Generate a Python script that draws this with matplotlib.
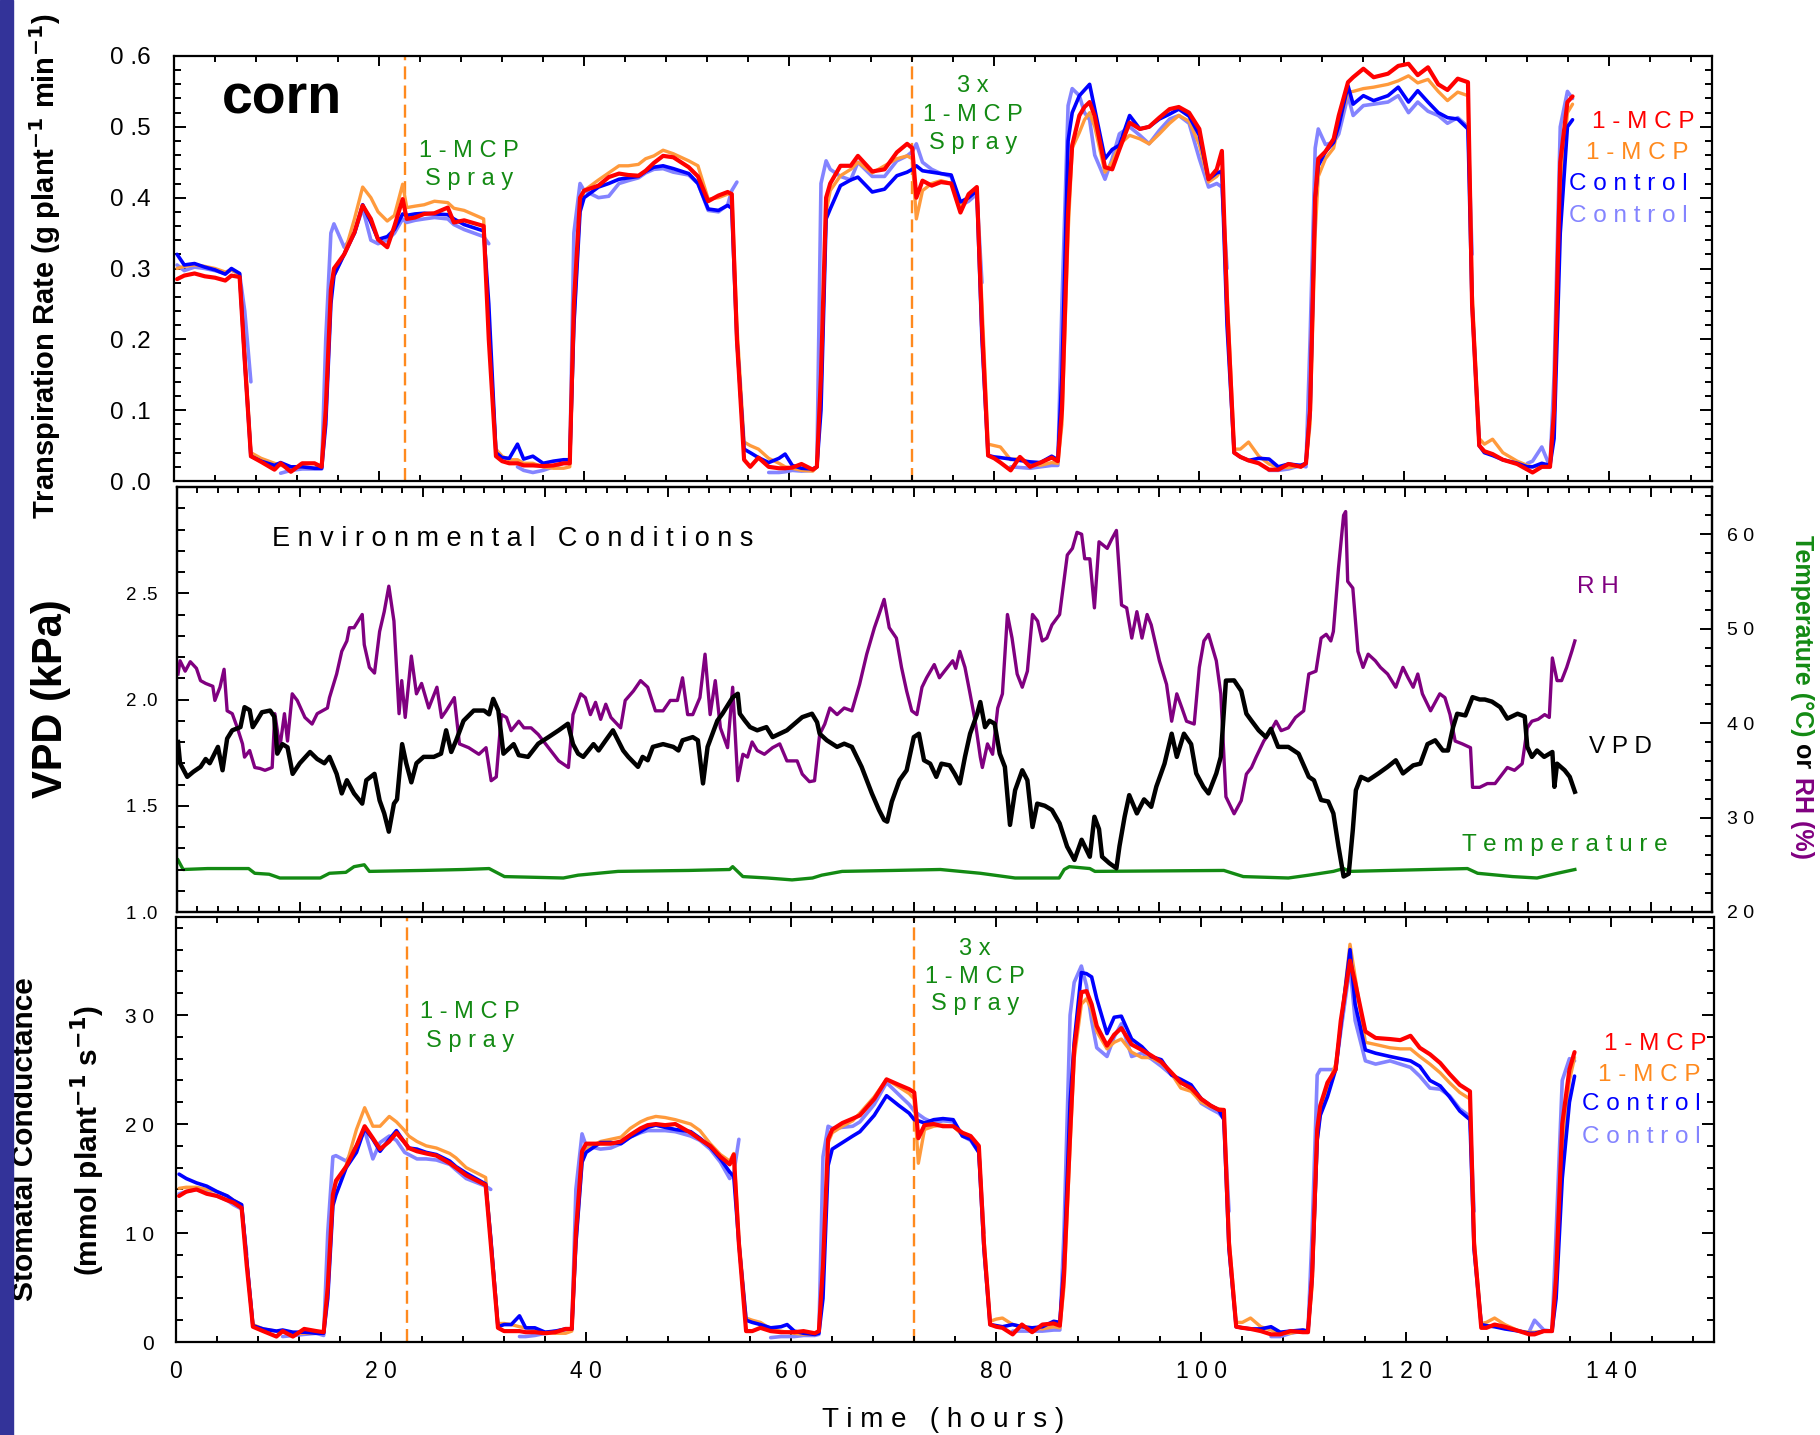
import numpy as np
import matplotlib
matplotlib.use("Agg")
import matplotlib.pyplot as plt
from matplotlib.ticker import MultipleLocator
from matplotlib.patches import Rectangle

plt.rcParams['font.family'] = ['Liberation Sans', 'DejaVu Sans']
nan = np.nan

# ---------------- shared time base for the plant measurements (hours) ----------------
hours = [
    0.3, 1.0, 2.0, 3.0, 4.0, 5.0, 5.6, 6.4,
    6.9, 7.5, 8.5, 9.8, 10.4, 11.4, 12.5, 13.7,
    14.4, 14.8, 15.3, 15.6, 16.6, 17.6, 18.4, 19.2, 19.9, 20.8, 21.5, 22.3, 22.7, 23.5, 24.4, 25.4, 26.7, 27.3, 28.3, 30.2,
    30.7, 31.4, 32.0, 32.7, 33.5, 34.1, 35.0, 36.0, 37.0, 38.0,
    38.6, 39.0, 39.6, 40.0, 41.4, 42.4, 43.4, 44.3, 45.3, 46.0, 46.8, 47.7, 48.7, 50.2, 51.1, 52.1, 53.1, 54.0, 54.4,
    54.9, 55.6, 56.2, 57.0, 58.0, 59.0, 59.6, 60.3, 61.2, 62.3,
    62.7, 63.1, 63.6, 64.0, 65.0, 66.0, 66.7, 68.1, 69.3, 70.5, 71.5, 72.0, 72.4, 73.0, 73.9, 74.8, 75.8, 76.7, 77.5, 78.3,
    78.8, 79.4, 80.0, 80.6, 81.6, 82.5, 83.5, 84.5, 85.6,
    86.2, 86.6, 87.2, 87.6, 88.3, 88.8, 89.3, 89.8, 90.8, 91.5, 92.2, 93.2, 94.2, 95.1, 96.1, 97.1, 98.0, 99.0, 100.0, 100.9, 101.7, 102.2,
    102.7, 103.4, 104.0, 104.8, 105.8, 106.8, 107.7, 108.7, 109.9,
    110.4, 110.8, 111.3, 111.6, 112.3, 113.1, 113.6, 114.5, 115.0, 116.0, 117.0, 118.4, 119.4, 120.4, 121.3, 122.3, 123.3, 124.2, 125.2, 126.2,
    126.6, 127.3, 127.8, 128.6, 129.6, 131.0, 132.0, 132.5, 133.4, 134.2, 134.6, 135.2,
    135.9, 136.4,
]

# ---------------- transpiration rate (g plant-1 min-1) ----------------
tr_mcp_a = [  # 1-MCP (red)
    0.285, 0.290, 0.293, 0.289, 0.287, 0.283, 0.290, 0.288,
    0.170, 0.035, 0.027, 0.016, 0.025, 0.013, 0.025, 0.025,
    0.020, 0.100, 0.270, 0.300, 0.320, 0.351, 0.389, 0.370, 0.341, 0.330, 0.360, 0.398, 0.370, 0.372, 0.377, 0.378, 0.386, 0.365, 0.368, 0.360,
    0.200, 0.035, 0.028, 0.025, 0.025, 0.022, 0.022, 0.021, 0.022, 0.025,
    0.025, 0.250, 0.400, 0.410, 0.417, 0.429, 0.434, 0.432, 0.431, 0.438, 0.449, 0.459, 0.457, 0.443, 0.430, 0.395, 0.403, 0.408, 0.405,
    0.200, 0.030, 0.020, 0.033, 0.020, 0.018, 0.018, 0.019, 0.024, 0.016,
    0.020, 0.150, 0.400, 0.420, 0.445, 0.445, 0.459, 0.437, 0.440, 0.464, 0.476, 0.470, 0.400, 0.424, 0.417, 0.422, 0.420, 0.379, 0.405, 0.415,
    0.220, 0.036, 0.032, 0.026, 0.015, 0.034, 0.020, 0.026, 0.033,
    0.028, 0.100, 0.380, 0.474, 0.516, 0.528, 0.535, 0.515, 0.443, 0.440, 0.468, 0.506, 0.497, 0.500, 0.513, 0.525, 0.528, 0.520, 0.497, 0.426, 0.440, 0.466,
    0.250, 0.040, 0.034, 0.029, 0.025, 0.016, 0.016, 0.024, 0.020,
    0.025, 0.100, 0.400, 0.455, 0.465, 0.483, 0.516, 0.563, 0.570, 0.582, 0.570, 0.575, 0.586, 0.589, 0.573, 0.584, 0.560, 0.552, 0.568, 0.563,
    0.250, 0.050, 0.042, 0.038, 0.030, 0.024, 0.016, 0.012, 0.020, 0.020, 0.100, 0.450,
    0.535, 0.543,
]
tr_mcp_b = [  # 1-MCP (orange)
    0.300, 0.303, 0.305, 0.303, 0.300, 0.295, 0.298, 0.292,
    0.180, 0.040, 0.032, 0.025, 0.022, 0.020, 0.020, 0.018,
    0.020, 0.100, 0.270, 0.290, 0.320, 0.370, 0.415, 0.400, 0.380, 0.367, 0.375, 0.419, 0.386, 0.388, 0.390, 0.395, 0.393, 0.385, 0.382, 0.370,
    0.220, 0.045, 0.035, 0.030, 0.030, 0.025, 0.025, 0.020, 0.018, 0.018,
    0.020, 0.220, 0.390, 0.410, 0.425, 0.435, 0.445, 0.445, 0.447, 0.455, 0.459, 0.467, 0.462, 0.452, 0.445, 0.398, 0.400, 0.405, 0.405,
    0.220, 0.055, 0.050, 0.045, 0.032, 0.025, 0.020, 0.018, 0.015, 0.014,
    0.020, 0.120, 0.380, 0.410, 0.431, 0.440, 0.450, 0.435, 0.445, 0.455, 0.459, 0.455, 0.370, 0.410, 0.420, 0.424, 0.420, 0.388, 0.400, 0.412,
    0.250, 0.052, 0.050, 0.048, 0.030, 0.032, 0.025, 0.022, 0.026,
    0.025, 0.080, 0.350, 0.470, 0.492, 0.510, 0.520, 0.500, 0.436, 0.450, 0.475, 0.488, 0.483, 0.476, 0.490, 0.505, 0.516, 0.508, 0.475, 0.422, 0.430, 0.440,
    0.270, 0.045, 0.045, 0.055, 0.035, 0.024, 0.019, 0.019, 0.022,
    0.025, 0.080, 0.350, 0.430, 0.455, 0.470, 0.505, 0.549, 0.550, 0.554, 0.556, 0.560, 0.565, 0.572, 0.562, 0.567, 0.550, 0.537, 0.549, 0.544,
    0.270, 0.060, 0.052, 0.059, 0.040, 0.028, 0.022, 0.020, 0.022, 0.022, 0.080, 0.400,
    0.520, 0.532,
]
tr_ctrl_a = [  # Control (blue)
    0.320, 0.305, 0.307, 0.302, 0.298, 0.292, 0.300, 0.293,
    0.170, 0.035, 0.028, 0.022, 0.026, 0.020, 0.020, 0.018,
    0.018, 0.080, 0.250, 0.290, 0.320, 0.350, 0.390, 0.365, 0.341, 0.345, 0.355, 0.377, 0.375, 0.377, 0.378, 0.377, 0.376, 0.370, 0.362, 0.353,
    0.250, 0.040, 0.033, 0.032, 0.052, 0.031, 0.035, 0.025, 0.028, 0.030,
    0.030, 0.220, 0.380, 0.400, 0.415, 0.420, 0.426, 0.428, 0.430, 0.437, 0.443, 0.445, 0.441, 0.434, 0.420, 0.384, 0.382, 0.389, 0.385,
    0.200, 0.045, 0.040, 0.033, 0.026, 0.032, 0.038, 0.022, 0.018, 0.017,
    0.020, 0.100, 0.370, 0.384, 0.417, 0.425, 0.429, 0.408, 0.412, 0.431, 0.436, 0.440, 0.445, 0.438, 0.436, 0.434, 0.432, 0.394, 0.400, 0.410,
    0.200, 0.036, 0.034, 0.033, 0.031, 0.029, 0.027, 0.026, 0.035,
    0.030, 0.150, 0.480, 0.520, 0.544, 0.552, 0.560, 0.525, 0.455, 0.468, 0.474, 0.516, 0.497, 0.500, 0.511, 0.518, 0.525, 0.515, 0.488, 0.426, 0.435, 0.437,
    0.220, 0.040, 0.034, 0.029, 0.032, 0.031, 0.020, 0.024, 0.022,
    0.025, 0.100, 0.400, 0.445, 0.465, 0.478, 0.502, 0.558, 0.532, 0.544, 0.537, 0.544, 0.556, 0.535, 0.551, 0.535, 0.520, 0.513, 0.511, 0.497,
    0.250, 0.050, 0.040, 0.036, 0.030, 0.025, 0.020, 0.020, 0.025, 0.022, 0.060, 0.350,
    0.500, 0.510,
]
tr_ctrl_b = [  # Control (light blue); gaps where the record is missing
    0.305, 0.297, 0.302, 0.300, 0.297, 0.293, 0.298, 0.292,
    0.240, 0.140, nan, nan, 0.011, 0.015, 0.017, 0.017,
    0.017, 0.200, 0.350, 0.363, 0.330, 0.350, 0.385, 0.340, 0.335, 0.340, 0.350, 0.370, 0.365, 0.368, 0.370, 0.372, 0.370, 0.362, 0.355, 0.345,
    0.335, nan, nan, nan, 0.020, 0.015, 0.012, 0.015, 0.020, 0.025,
    0.025, 0.350, 0.420, 0.410, 0.400, 0.402, 0.420, 0.424, 0.428, 0.435, 0.440, 0.441, 0.436, 0.432, 0.420, 0.382, 0.380, 0.390, 0.410,
    0.422, nan, nan, nan, 0.012, 0.012, 0.013, 0.015, 0.014, 0.015,
    0.020, 0.420, 0.452, 0.440, 0.430, 0.425, 0.450, 0.430, 0.430, 0.452, 0.459, 0.465, 0.476, 0.450, 0.440, 0.434, 0.430, 0.389, 0.395, 0.405,
    0.280, nan, nan, nan, 0.020, 0.019, 0.018, 0.020, 0.022,
    0.022, 0.250, 0.530, 0.554, 0.544, 0.520, 0.510, 0.460, 0.426, 0.455, 0.490, 0.500, 0.488, 0.476, 0.495, 0.511, 0.516, 0.505, 0.455, 0.415, 0.420, 0.415,
    0.300, nan, nan, nan, nan, 0.015, 0.015, 0.017, 0.022,
    0.020, 0.200, 0.470, 0.497, 0.475, 0.478, 0.490, 0.544, 0.516, 0.530, 0.532, 0.535, 0.544, 0.520, 0.535, 0.522, 0.516, 0.505, 0.513, 0.500,
    0.320, nan, nan, nan, nan, nan, 0.025, 0.028, 0.048, 0.020, 0.150, 0.500,
    0.550, 0.540,
]

# ---------------- stomatal conductance (mmol plant-1 s-1) ----------------
gs_mcp_a = [
    13.4, 13.8, 14.0, 13.6, 13.4, 13.0, 12.8, 12.3,
    7.0, 1.4, 1.0, 0.5, 1.0, 0.5, 1.2, 1.0,
    0.9, 5.0, 13.5, 14.8, 16.1, 18.0, 19.8, 18.7, 17.7, 18.4, 19.2, 18.3, 17.8, 17.5, 17.3, 17.1, 16.4, 16.0, 15.3, 14.4,
    9.0, 1.3, 1.0, 1.0, 1.0, 0.9, 0.9, 0.8, 0.9, 1.2,
    1.2, 10.0, 17.5, 18.2, 18.2, 18.2, 18.4, 19.0, 19.6, 19.9, 20.0, 19.9, 20.0, 19.2, 18.6, 18.0, 17.0, 16.3, 17.2,
    9.0, 1.0, 1.0, 1.3, 1.0, 0.9, 0.9, 0.9, 1.0, 0.8,
    1.0, 7.0, 18.6, 19.5, 20.1, 20.5, 20.8, 22.3, 24.1, 23.6, 23.2, 22.9, 18.7, 19.9, 20.0, 19.8, 19.8, 19.2, 18.9, 18.0,
    9.0, 1.6, 1.4, 1.3, 0.7, 1.6, 0.9, 1.6, 1.7,
    1.5, 6.0, 19.0, 26.9, 32.1, 32.2, 31.0, 29.0, 27.2, 28.2, 28.8, 27.3, 26.8, 26.3, 25.7, 24.7, 23.8, 23.3, 22.3, 21.7, 21.3, 21.3,
    9.0, 1.4, 1.3, 1.2, 1.0, 0.7, 0.7, 1.0, 0.9,
    0.9, 6.0, 19.5, 21.7, 23.8, 25.0, 29.5, 35.0, 33.0, 28.5, 27.9, 27.8, 27.7, 28.1, 27.0, 26.4, 25.6, 24.6, 23.6, 23.0,
    9.0, 1.3, 1.3, 1.6, 1.4, 1.0, 0.7, 0.7, 1.0, 1.0, 6.0, 20.0,
    25.0, 26.6,
]
gs_mcp_b = [
    14.1, 14.2, 14.2, 14.0, 13.8, 13.4, 13.0, 12.6,
    7.5, 1.6, 1.2, 1.0, 0.9, 0.8, 0.8, 0.8,
    0.9, 5.0, 13.5, 14.6, 16.2, 19.5, 21.5, 19.8, 19.8, 20.7, 20.2, 19.4, 18.9, 18.4, 18.0, 17.8, 17.3, 16.9, 16.0, 15.1,
    9.5, 1.7, 1.7, 1.6, 1.4, 1.3, 1.1, 0.9, 0.8, 0.8,
    1.0, 9.0, 16.5, 17.7, 18.4, 18.6, 18.8, 19.6, 20.2, 20.5, 20.7, 20.6, 20.4, 20.0, 19.4, 18.2, 17.2, 16.6, 17.3,
    9.5, 2.2, 2.0, 1.8, 1.2, 1.0, 0.9, 0.8, 0.7, 0.7,
    1.0, 6.0, 18.3, 19.2, 19.8, 20.3, 21.0, 22.5, 24.1, 23.4, 22.8, 22.3, 16.4, 19.5, 19.8, 19.9, 19.8, 19.0, 18.6, 17.8,
    9.5, 1.9, 2.1, 2.2, 1.6, 1.4, 1.3, 1.2, 1.4,
    1.3, 5.0, 18.0, 26.0, 31.0, 31.5, 30.5, 28.5, 26.9, 27.5, 27.8, 26.6, 26.1, 26.1, 25.6, 24.6, 23.3, 23.0, 22.0, 21.6, 21.4, 21.3,
    9.5, 1.8, 1.8, 2.2, 1.4, 1.1, 0.8, 0.8, 1.1,
    1.0, 5.0, 18.5, 21.0, 23.4, 25.5, 29.0, 36.5, 33.5, 27.5, 27.3, 27.0, 26.9, 26.9, 26.2, 25.5, 24.7, 23.8, 22.9, 22.3,
    9.5, 1.7, 1.8, 2.2, 1.6, 1.0, 0.9, 0.9, 1.0, 1.0, 5.0, 18.0,
    24.0, 26.1,
]
gs_ctrl_a = [
    15.4, 15.0, 14.6, 14.3, 13.8, 13.4, 13.0, 12.6,
    7.5, 1.5, 1.2, 1.0, 1.1, 0.9, 0.9, 0.8,
    0.8, 4.0, 12.5, 13.5, 16.0, 17.4, 19.6, 18.6, 17.5, 18.6, 19.4, 18.3, 17.8, 17.7, 17.4, 17.2, 16.6, 16.1, 15.5, 14.5,
    9.5, 1.4, 1.6, 1.6, 2.4, 1.3, 1.3, 0.9, 1.0, 1.2,
    1.2, 9.0, 16.5, 17.4, 18.3, 18.3, 18.2, 18.8, 19.3, 19.7, 19.9, 19.7, 19.5, 19.3, 18.7, 17.9, 16.8, 15.6, 15.2,
    9.0, 2.0, 1.8, 1.6, 1.3, 1.4, 1.6, 1.0, 0.8, 0.7,
    0.8, 4.0, 16.2, 17.7, 18.3, 18.9, 19.3, 20.8, 22.6, 21.7, 21.0, 20.4, 20.3, 20.1, 20.4, 20.5, 20.4, 18.9, 18.6, 17.4,
    8.5, 1.6, 1.5, 1.4, 1.6, 1.4, 1.3, 1.4, 1.9,
    1.8, 7.0, 22.0, 27.5, 33.9, 33.8, 33.5, 31.5, 28.3, 29.8, 29.9, 27.8, 27.1, 26.2, 25.9, 24.5, 24.1, 23.6, 22.3, 21.7, 21.3, 20.4,
    8.5, 1.4, 1.3, 1.2, 1.2, 1.4, 0.9, 1.0, 1.1,
    1.0, 6.0, 18.5, 20.8, 22.5, 25.0, 29.0, 36.0, 31.0, 26.8, 26.5, 26.2, 26.0, 25.8, 25.3, 24.0, 23.5, 22.5, 21.2, 20.4,
    8.5, 1.6, 1.5, 1.4, 1.2, 1.0, 0.8, 0.8, 1.0, 1.0, 4.0, 15.0,
    22.0, 24.4,
]
gs_ctrl_b = [
    13.6, 13.8, 14.0, 13.7, 13.4, 13.0, 12.6, 12.2,
    8.0, nan, nan, nan, 0.5, 0.6, 0.7, 0.8,
    0.6, 10.0, 17.0, 17.1, 16.6, 18.0, 19.4, 16.8, 18.3, 18.9, 18.5, 17.4, 17.2, 16.8, 16.8, 16.7, 16.3, 15.8, 15.0, 14.3,
    14.0, nan, nan, nan, 0.5, 0.5, 0.6, 0.8, 1.0, 1.1,
    1.1, 14.0, 19.1, 18.0, 17.7, 17.8, 18.2, 18.8, 19.2, 19.4, 19.4, 19.4, 19.3, 18.9, 18.5, 17.7, 16.5, 15.0, 15.5,
    18.6, nan, nan, nan, 0.4, 0.5, 0.5, 0.5, 0.6, 0.6,
    0.7, 17.0, 19.8, 19.6, 19.7, 19.8, 20.2, 21.8, 23.8, 22.7, 21.8, 21.2, 20.9, 20.5, 20.1, 20.3, 20.2, 18.9, 18.5, 17.4,
    10.0, nan, nan, nan, 1.0, 1.0, 1.0, 1.0, 1.1,
    1.1, 10.0, 30.0, 33.0, 34.5, 32.7, 29.5, 27.0, 26.2, 28.0, 29.2, 26.2, 26.5, 26.0, 25.3, 24.5, 23.8, 23.3, 21.9, 21.4, 21.0, 20.5,
    12.0, nan, nan, nan, nan, 0.5, 0.5, 0.8, 1.0,
    0.9, 10.0, 24.5, 25.0, 25.0, 25.0, 28.5, 34.5, 29.5, 25.8, 25.5, 25.8, 25.5, 25.2, 24.4, 23.3, 23.2, 22.6, 21.4, 20.7,
    12.0, nan, nan, nan, nan, nan, 1.0, 2.0, 1.1, 1.0, 10.0, 24.0,
    26.0, 25.8,
]

# ---------------- environmental record ----------------
vpd_hours = [
    0.1, 0.3, 1.0, 1.6, 2.3, 2.8, 3.2, 4.0, 4.45, 4.9, 5.4, 6.2, 6.6, 7.1, 7.4, 7.8, 8.3, 9.1, 9.5, 9.8,
    10.3, 10.8, 11.3, 12.0, 13.0, 13.7, 14.4, 14.9, 15.6, 16.1, 16.6, 17.3, 18.1, 18.5, 19.3, 19.8, 20.25, 20.7, 21.2, 21.5,
    22.0, 22.4, 22.9, 23.4, 24.1, 25.1, 25.8, 26.3, 26.8, 27.3, 28.0, 29.0, 30.0, 30.5, 30.9, 31.4, 31.9, 32.9, 33.4, 34.3,
    35.3, 36.3, 37.3, 38.2, 38.7, 39.2, 39.7, 40.7, 41.2, 41.9, 42.6, 43.1, 43.6, 44.1, 45.05, 45.5, 46.0, 46.5, 47.5, 48.5,
    49.0, 49.4, 50.4, 50.9, 51.4, 51.85, 52.8, 53.3, 54.3, 54.8, 55.0, 55.5, 56.0, 56.7, 57.6, 58.2, 58.9, 59.6, 61.1, 62.05,
    62.55, 62.8, 63.5, 64.5, 65.2, 65.95, 66.9, 67.9, 68.6, 69.1, 69.4, 69.85, 70.6, 71.3, 72.0, 72.5, 73.0, 73.6, 74.2, 74.7,
    75.5, 76.0, 76.5, 77.0, 77.5, 78.2, 78.5, 78.96, 79.4, 79.9, 80.4, 80.9, 81.4, 81.9, 82.6, 83.1, 83.6, 84.06, 84.8, 85.5,
    86.25, 86.98, 87.7, 88.4, 89.2, 89.65, 90.1, 90.4, 91.1, 91.8, 92.1, 92.6, 93.05, 93.8, 94.5, 95.2, 95.7, 96.5, 97.2, 97.7,
    98.4, 99.1, 99.6, 100.3, 100.8, 101.56, 102.0, 102.5, 103.3, 104.0, 104.5, 105.0, 105.7, 106.4, 106.9, 107.6, 108.6, 109.6, 110.6, 111.1,
    111.8, 112.5, 113.0, 113.5, 114.0, 114.5, 114.9, 115.2, 115.7, 116.4, 117.4, 118.3, 119.1, 119.8, 120.8, 121.5, 122.2, 122.95, 123.7, 124.2,
    124.7, 125.1, 125.9, 126.6, 127.3, 127.8, 128.5, 129.3, 130.0, 131.0, 131.7, 131.95, 132.4, 132.9, 133.6, 134.4, 134.6, 134.86, 135.6, 136.1,
    136.6,
]
vpd_kpa = [
    1.800, 1.700, 1.636, 1.660, 1.683, 1.720, 1.700, 1.777, 1.667, 1.816, 1.855, 1.870, 1.964, 1.950, 1.870, 1.900, 1.940, 1.948, 1.920, 1.745,
    1.790, 1.775, 1.650, 1.700, 1.753, 1.720, 1.700, 1.730, 1.650, 1.558, 1.620, 1.558, 1.510, 1.620, 1.650, 1.525, 1.464, 1.378, 1.510, 1.530,
    1.790, 1.700, 1.610, 1.700, 1.730, 1.730, 1.745, 1.855, 1.753, 1.810, 1.900, 1.948, 1.948, 1.930, 2.003, 1.948, 1.745, 1.790, 1.738, 1.730,
    1.792, 1.823, 1.855, 1.886, 1.790, 1.745, 1.730, 1.790, 1.760, 1.808, 1.855, 1.808, 1.760, 1.730, 1.683, 1.730, 1.714, 1.777, 1.790, 1.777,
    1.760, 1.808, 1.823, 1.808, 1.605, 1.777, 1.900, 1.933, 2.010, 2.027, 1.933, 1.900, 1.870, 1.855, 1.870, 1.823, 1.839, 1.855, 1.917, 1.933,
    1.893, 1.839, 1.808, 1.777, 1.792, 1.777, 1.683, 1.558, 1.480, 1.433, 1.425, 1.519, 1.620, 1.667, 1.823, 1.839, 1.714, 1.698, 1.636, 1.698,
    1.690, 1.650, 1.605, 1.730, 1.839, 1.933, 1.988, 1.870, 1.900, 1.886, 1.745, 1.683, 1.410, 1.573, 1.667, 1.620, 1.400, 1.510, 1.500, 1.480,
    1.417, 1.308, 1.245, 1.340, 1.260, 1.448, 1.390, 1.260, 1.230, 1.206, 1.310, 1.448, 1.550, 1.464, 1.530, 1.495, 1.590, 1.698, 1.839, 1.730,
    1.839, 1.790, 1.652, 1.589, 1.558, 1.652, 1.730, 2.089, 2.090, 2.040, 1.933, 1.900, 1.855, 1.823, 1.862, 1.777, 1.777, 1.745, 1.636, 1.620,
    1.527, 1.520, 1.464, 1.308, 1.167, 1.180, 1.386, 1.573, 1.636, 1.620, 1.652, 1.683, 1.714, 1.652, 1.690, 1.698, 1.790, 1.808, 1.760, 1.760,
    1.870, 1.933, 1.925, 2.011, 2.000, 2.000, 1.990, 1.964, 1.910, 1.933, 1.920, 1.777, 1.730, 1.760, 1.730, 1.753, 1.589, 1.698, 1.667, 1.636,
    1.566,
]
rh_hours = [
    0.1, 0.3, 0.8, 1.3, 1.9, 2.3, 2.8, 3.5, 3.7, 4.2, 4.6, 4.9, 5.4, 5.9, 6.4, 6.6, 7.1, 7.6, 8.1, 8.6,
    9.3, 9.56, 10.05, 10.5, 10.8, 11.26, 11.75, 12.5, 13.2, 13.7, 14.7, 14.9, 15.6, 16.1, 16.6, 16.85, 17.3, 18.1, 18.3, 18.8,
    19.3, 19.8, 20.25, 20.7, 21.2, 21.7, 21.96, 22.3, 22.9, 23.4, 23.9, 24.6, 25.4, 25.85, 26.3, 27.1, 27.6, 28.5, 29.5, 30.2,
    30.7, 31.2, 31.7, 32.2, 32.65, 33.4, 33.9, 34.6, 35.3, 36.3, 37.3, 38.25, 38.7, 39.45, 39.9, 40.4, 40.9, 41.4, 41.9, 42.4,
    43.35, 43.8, 44.6, 45.3, 46.0, 46.75, 47.5, 48.2, 48.9, 49.4, 49.9, 50.4, 51.1, 51.6, 52.1, 52.6, 53.1, 53.8, 54.3, 54.8,
    55.3, 55.75, 56.2, 56.7, 57.4, 58.2, 58.9, 59.6, 60.6, 61.1, 61.8, 62.3, 62.8, 63.3, 63.8, 64.5, 65.2, 65.95, 66.7, 67.4,
    68.15, 68.6, 69.1, 69.6, 70.3, 70.8, 71.3, 71.8, 72.3, 72.8, 73.25, 74.0, 74.5, 75.0, 75.8, 76.1, 76.5, 77.0, 77.5, 78.0,
    78.5, 78.7, 79.2, 79.7, 80.2, 80.66, 81.15, 81.6, 82.1, 82.6, 83.1, 83.6, 84.1, 84.55, 85.0, 85.5, 86.25, 87.0, 87.5, 87.95,
    88.4, 88.7, 89.2, 89.65, 90.1, 90.9, 91.35, 91.8, 92.3, 92.8, 93.3, 93.8, 94.3, 94.8, 95.2, 96.0, 96.7, 97.2, 97.7, 98.2,
    98.65, 99.4, 99.9, 100.35, 100.8, 101.56, 102.0, 102.5, 103.3, 104.0, 104.5, 105.0, 105.45, 106.2, 106.9, 107.4, 107.9, 108.6, 109.3, 110.1,
    110.6, 111.3, 111.8, 112.3, 112.75, 113.0, 113.5, 114.0, 114.2, 114.4, 114.9, 115.4, 115.9, 116.4, 117.1, 117.6, 118.3, 119.1, 119.8, 120.3,
    120.8, 121.25, 121.7, 122.5, 123.4, 123.9, 124.4, 124.9, 125.6, 126.4, 126.6, 127.3, 128.05, 128.8, 129.5, 130.0, 130.7, 131.45, 131.95, 132.4,
    133.0, 133.65, 134.1, 134.4, 134.86, 135.3, 135.8, 136.3, 136.6,
]
rh_pct = [
    45.2, 46.6, 45.5, 46.5, 45.8, 44.5, 44.2, 43.9, 42.4, 43.8, 45.7, 41.3, 41.0, 39.5, 37.8, 36.4, 37.1, 35.3, 35.2, 35.0,
    35.3, 41.0, 37.4, 41.0, 38.1, 43.1, 42.4, 40.6, 39.9, 41.0, 41.6, 42.7, 45.2, 47.6, 48.7, 50.1, 50.1, 51.5, 48.3, 45.9,
    45.3, 49.7, 51.8, 54.5, 50.8, 41.0, 44.5, 40.6, 47.1, 43.1, 44.2, 41.6, 43.8, 40.6, 41.3, 42.7, 37.8, 37.4, 36.7, 37.4,
    33.9, 34.3, 40.9, 40.6, 39.2, 40.2, 39.5, 39.5, 38.8, 37.4, 36.0, 35.3, 40.9, 43.1, 42.7, 40.9, 42.2, 40.4, 42.0, 40.6,
    39.5, 42.4, 43.4, 44.5, 43.8, 41.3, 41.3, 42.4, 42.4, 44.8, 40.9, 40.9, 42.7, 47.3, 40.9, 44.5, 39.5, 37.4, 43.8, 33.9,
    36.7, 36.4, 38.0, 37.1, 36.7, 37.4, 37.8, 36.0, 36.0, 34.6, 33.8, 33.9, 38.8, 39.9, 41.6, 40.9, 41.6, 41.3, 44.1, 47.3,
    50.1, 51.5, 53.1, 50.1, 49.0, 45.9, 43.4, 41.3, 40.9, 43.8, 44.8, 46.2, 44.8, 45.5, 46.6, 45.8, 47.6, 45.9, 43.1, 40.2,
    36.4, 35.3, 37.8, 36.7, 41.6, 43.1, 51.5, 49.0, 45.2, 43.8, 45.5, 51.5, 50.8, 48.7, 49.0, 50.4, 51.5, 57.8, 58.5, 60.2,
    60.0, 57.4, 57.4, 52.2, 59.2, 58.5, 59.5, 60.4, 52.5, 52.2, 49.0, 51.8, 49.0, 51.5, 50.4, 46.6, 44.1, 40.2, 43.1, 41.6,
    40.2, 39.9, 45.9, 48.7, 49.4, 46.6, 43.1, 32.2, 30.4, 31.8, 34.6, 35.3, 36.4, 38.1, 39.2, 40.2, 39.2, 39.5, 40.6, 41.3,
    45.2, 45.5, 49.0, 49.4, 48.7, 49.7, 56.4, 62.0, 62.4, 55.0, 54.3, 47.6, 45.9, 47.3, 46.6, 45.9, 45.2, 43.8, 45.9, 44.8,
    43.8, 45.2, 43.1, 41.3, 43.1, 42.7, 40.9, 38.1, 37.8, 37.4, 33.2, 33.2, 33.6, 33.6, 34.6, 35.3, 35.0, 35.7, 39.5, 40.2,
    40.4, 40.9, 40.6, 46.9, 44.5, 44.5, 45.9, 47.6, 48.7,
]
temp_hours = [
    0.1, 0.6, 3.0, 4.2, 7.0, 7.6, 9.0, 10.05, 14.0, 14.9, 16.5, 17.3, 18.3, 18.8, 24.0, 28.0, 30.5, 32.0, 37.75, 39.2,
    43.1, 50.0, 54.0, 54.3, 55.3, 57.7, 60.1, 62.1, 63.0, 65.0, 70.0, 74.6, 78.5, 81.9, 86.2, 86.7, 87.2, 89.2, 89.7, 102.3,
    104.2, 108.6, 110.6, 113.0, 114.0, 114.6, 126.1, 127.1, 130.5, 132.9, 134.9, 136.6,
]
temp_c = [
    25.5, 24.5, 24.6, 24.6, 24.6, 24.1, 24.0, 23.6, 23.6, 24.1, 24.2, 24.8, 25.0, 24.3, 24.4, 24.5, 24.6, 23.75, 23.6, 23.9,
    24.3, 24.4, 24.5, 24.8, 23.75, 23.6, 23.4, 23.6, 23.9, 24.3, 24.4, 24.5, 24.1, 23.6, 23.6, 24.5, 24.8, 24.6, 24.3, 24.4,
    23.75, 23.6, 23.9, 24.3, 24.6, 24.3, 24.6, 24.1, 23.75, 23.6, 24.1, 24.5,
]

# spray events and annotation text
spray_hours = [22.5, 72.0]
series_names = ["1 - M C P", "1 - M C P", "C o n t r o l", "C o n t r o l"]

# tick positions and labels
tr_yticks = [0.0, 0.1, 0.2, 0.3, 0.4, 0.5, 0.6]
tr_yticklabels = ["0 .0", "0 .1", "0 .2", "0 .3", "0 .4", "0 .5", "0 .6"]
vpd_yticks = [1.0, 1.5, 2.0, 2.5]
vpd_yticklabels = ["1 .0", "1 .5", "2 .0", "2 .5"]
rh_yticks = [20, 30, 40, 50, 60]
rh_yticklabels = ["2 0", "3 0", "4 0", "5 0", "6 0"]
gs_yticks = [0, 10, 20, 30]
gs_yticklabels = ["0", "1 0", "2 0", "3 0"]
hour_ticks = [0, 20, 40, 60, 80, 100, 120, 140]
hour_ticklabels = ["0", "2 0", "4 0", "6 0", "8 0", "1 0 0", "1 2 0", "1 4 0"]

RED, ORANGE, BLUE, LIGHT = '#ff0000', '#ff9a3c', '#0000ff', '#8484ff'
ORANGE_TXT = '#ff8a1e'
GREEN, PURPLE = '#138a13', '#800080'

W, H = 1820, 1435
fig = plt.figure(figsize=(W / 100, H / 100), dpi=100)
fig.patch.set_facecolor('white')


def fx(x):
    return x / W


def fy(y):
    return 1 - y / H


def add_axes_px(left, top, right, bottom):
    return fig.add_axes([fx(left), fy(bottom), (right - left) / W, (bottom - top) / H])


ax_tr = add_axes_px(174, 56, 1712, 481)
ax_env = add_axes_px(177, 487, 1712, 912)
ax_gs = add_axes_px(176, 917, 1714, 1342)


def frame(ax, right=True):
    for s in ax.spines.values():
        s.set_linewidth(1.6)
    ax.tick_params(which='both', direction='in', top=True, bottom=True, width=1.4)
    ax.tick_params(axis='y', which='both', right=right, left=True)
    ax.xaxis.set_tick_params(which='major', length=7)
    ax.xaxis.set_tick_params(which='minor', length=4.5)
    ax.yaxis.set_tick_params(which='major', length=8.5)
    ax.yaxis.set_tick_params(which='minor', length=5)


# ---------- top: transpiration ----------
frame(ax_tr)
ax_tr.set_xlim(0, 150)
ax_tr.set_ylim(0, 0.6)
ax_tr.xaxis.set_major_locator(MultipleLocator(20))
ax_tr.xaxis.set_minor_locator(MultipleLocator(4))
ax_tr.set_yticks(tr_yticks, labels=tr_yticklabels)
ax_tr.yaxis.set_minor_locator(MultipleLocator(0.02))
ax_tr.tick_params(labelbottom=False)
ax_tr.tick_params(axis='y', labelsize=17.5, pad=17)

# ---------- bottom: stomatal conductance ----------
frame(ax_gs)
ax_gs.set_xlim(0, 150)
ax_gs.set_ylim(0, 39)
ax_gs.set_xticks(hour_ticks, labels=hour_ticklabels)
ax_gs.xaxis.set_minor_locator(MultipleLocator(4))
ax_gs.set_yticks(gs_yticks, labels=gs_yticklabels)
ax_gs.yaxis.set_minor_locator(MultipleLocator(2))
ax_gs.tick_params(axis='x', labelsize=16.5, pad=13)
ax_gs.tick_params(axis='y', labelsize=15, pad=16)

for ax, a, b, c, d in [(ax_tr, tr_ctrl_b, tr_mcp_b, tr_ctrl_a, tr_mcp_a),
                       (ax_gs, gs_ctrl_b, gs_mcp_b, gs_ctrl_a, gs_mcp_a)]:
    for sx in spray_hours:
        ax.axvline(sx, color=ORANGE_TXT, lw=1.7, dashes=(5.5, 2.6), zorder=1)
    ax.plot(hours, a, color=LIGHT, lw=2.6, zorder=2, solid_joinstyle='round', solid_capstyle='round')
    ax.plot(hours, b, color=ORANGE, lw=2.4, zorder=3, solid_joinstyle='round', solid_capstyle='round')
    ax.plot(hours, c, color=BLUE, lw=2.6, zorder=4, solid_joinstyle='round', solid_capstyle='round')
    ax.plot(hours, d, color=RED, lw=3.0, zorder=5, solid_joinstyle='round', solid_capstyle='round')

# spray annotations
spray_kw = dict(color=GREEN, fontsize=17, ha='center', va='baseline')
ax_tr.text(28.75, 0.457, "1 - M C P", **spray_kw)
ax_tr.text(28.75, 0.418, "S p r a y", **spray_kw)
ax_tr.text(77.9, 0.549, "3 x", **spray_kw)
ax_tr.text(77.9, 0.508, "1 - M C P", **spray_kw)
ax_tr.text(77.9, 0.469, "S p r a y", **spray_kw)
ax_gs.text(28.65, 29.7, "1 - M C P", **spray_kw)
ax_gs.text(28.65, 27.1, "S p r a y", **spray_kw)
ax_gs.text(77.9, 35.5, "3 x", **spray_kw)
ax_gs.text(77.9, 32.9, "1 - M C P", **spray_kw)
ax_gs.text(77.9, 30.5, "S p r a y", **spray_kw)

# series names at the right of each plant panel
name_colors = [RED, ORANGE_TXT, BLUE, LIGHT]
for (xr, yb), name, col in zip([(1695, 128), (1688, 159), (1688, 190), (1688, 222)], series_names, name_colors):
    fig.text(fx(xr), fy(yb), name, color=col, fontsize=17.5, ha='right', va='baseline')
for (xr, yb), name, col in zip([(1706, 1050), (1701, 1081), (1701, 1110), (1701, 1143)], series_names, name_colors):
    fig.text(fx(xr), fy(yb), name, color=col, fontsize=17.5, ha='right', va='baseline')

fig.text(fx(222), fy(113), "corn", fontsize=40, fontweight='bold', ha='left', va='baseline')

# ---------- middle: environment ----------
ax_rh = ax_env.twinx()
ax_env.set_zorder(ax_rh.get_zorder() + 1)
ax_env.patch.set_visible(False)
for ax in (ax_env, ax_rh):
    for s in ax.spines.values():
        s.set_linewidth(1.6)
ax_env.set_xlim(0, 150)
ax_env.set_ylim(1.0, 3.0)
ax_env.xaxis.set_major_locator(MultipleLocator(12))
ax_env.xaxis.set_minor_locator(MultipleLocator(2))
ax_env.set_yticks(vpd_yticks, labels=vpd_yticklabels)
ax_env.yaxis.set_minor_locator(MultipleLocator(0.1))
ax_env.tick_params(which='both', direction='in', top=True, bottom=True, left=True, right=False,
                   labelbottom=False, width=1.4)
ax_env.xaxis.set_tick_params(which='major', length=7)
ax_env.xaxis.set_tick_params(which='minor', length=4.5)
ax_env.yaxis.set_tick_params(which='major', length=8.5)
ax_env.yaxis.set_tick_params(which='minor', length=5.5)
ax_env.tick_params(axis='y', labelsize=13.5, pad=14)

ax_rh.set_ylim(20, 65)
ax_rh.set_yticks(rh_yticks, labels=rh_yticklabels)
ax_rh.yaxis.set_minor_locator(MultipleLocator(2))
ax_rh.tick_params(axis='y', which='both', direction='in', right=True, left=False, width=1.4, labelsize=14, pad=11)
ax_rh.yaxis.set_tick_params(which='major', length=8.5)
ax_rh.yaxis.set_tick_params(which='minor', length=5)

ax_rh.plot(temp_hours, temp_c, color=GREEN, lw=2.4, zorder=2)
ax_rh.plot(rh_hours, rh_pct, color=PURPLE, lw=2.4, zorder=3)
ax_env.plot(vpd_hours, vpd_kpa, color='black', lw=3.2, zorder=4)

ax_env.text(9.3, 2.72, "E n v i r o n m e n t a l   C o n d i t i o n s", fontsize=19.5,
            ha='left', va='baseline')
ax_env.text(136.8, 2.5, "R H", color=PURPLE, fontsize=17.5, ha='left', va='baseline')
ax_env.text(138.0, 1.748, "V P D", color='black', fontsize=17.5, ha='left', va='baseline')
ax_env.text(125.6, 1.285, "T e m p e r a t u r e", color=GREEN, fontsize=17.5, ha='left', va='baseline')

# ---------- axis titles ----------
fig.text(fx(45), fy(266), r"Transpiration Rate (g plant$^{\mathbf{-1}}$ min$^{\mathbf{-1}}$)",
         rotation=90, ha='center', va='center', fontsize=21, fontweight='bold')
fig.text(fx(51), fy(699), "VPD (kPa)", rotation=90, ha='center', va='center',
         fontsize=30, fontweight='bold')
fig.text(fx(33), fy(1139), "Stomatal Conductance", rotation=90, rotation_mode='anchor',
         ha='center', va='baseline', fontsize=21.5, fontweight='bold')
fig.text(fx(98), fy(1140), r"(mmol plant$^{\mathbf{-1}}$ s$^{\mathbf{-1}}$)", rotation=90,
         rotation_mode='anchor', ha='center', va='baseline', fontsize=21.5, fontweight='bold')
fig.text(fx(943), fy(1427), "T i m e   ( h o u r s )", ha='center', va='baseline', fontsize=20)

# right-hand title in three colours, read from top to bottom
fig.canvas.draw()
renderer = fig.canvas.get_renderer()
right_parts = ["Temperature (°C)", "or", "RH (%)"]
right_colors = [GREEN, 'black', PURPLE]
ypos = 535.0
for part, col in zip(right_parts, right_colors):
    t = fig.text(fx(1795), fy(ypos), part, rotation=-90, rotation_mode='anchor', ha='left',
                 va='baseline', fontsize=18, fontweight='bold', color=col)
    ypos += t.get_window_extent(renderer).height + 0.3 * 18 * 100 / 72

# band along the left edge
fig.add_artist(Rectangle((0, 0), 13 / W, 1, transform=fig.transFigure, color='#333399', zorder=20))

fig.savefig('out.png', dpi=100)
